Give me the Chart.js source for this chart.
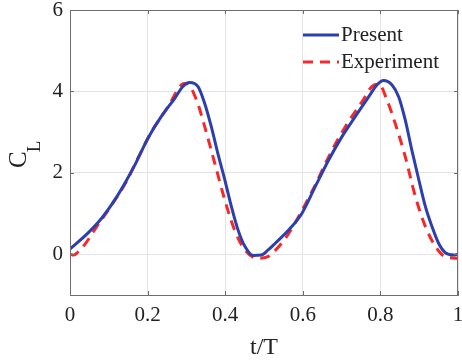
<!DOCTYPE html>
<html>
<head>
<meta charset="utf-8">
<script src="https://cdn.jsdelivr.net/npm/chart.js@4.4.0/dist/chart.umd.min.js"></script>
<style>
  html, body { margin: 0; padding: 0; background: #fff; }
  #wrap { width: 462px; height: 362px; }
</style>
</head>
<body>
<div id="wrap"><canvas id="myChart" width="462" height="362"></canvas></div>
<script>
// t/T values and lift coefficient
const presentT = [0, 0.046, 0.081, 0.115, 0.141, 0.167, 0.201, 0.235, 0.27, 0.291, 0.308, 0.33, 0.347, 0.364, 0.381, 0.399, 0.416, 0.433, 0.451, 0.472, 0.493, 0.51, 0.529, 0.564, 0.598, 0.632, 0.667, 0.701, 0.735, 0.77, 0.791, 0.808, 0.83, 0.847, 0.864, 0.881, 0.899, 0.916, 0.933, 0.95, 0.967, 0.989, 1.0];
const presentCL = [0.13, 0.52, 0.88, 1.33, 1.74, 2.19, 2.85, 3.38, 3.83, 4.12, 4.22, 4.12, 3.71, 3.14, 2.48, 1.83, 1.17, 0.6, 0.19, -0.03, -0.02, 0.1, 0.27, 0.6, 1.01, 1.66, 2.32, 2.89, 3.38, 3.87, 4.16, 4.27, 4.16, 3.87, 3.3, 2.56, 1.83, 1.17, 0.68, 0.27, 0.04, -0.02, 0.0];

const experimentT = [0, 0.01, 0.02, 0.034, 0.072, 0.107, 0.145, 0.175, 0.21, 0.253, 0.287, 0.3, 0.326, 0.347, 0.373, 0.399, 0.424, 0.451, 0.485, 0.51, 0.521, 0.555, 0.589, 0.632, 0.667, 0.71, 0.753, 0.778, 0.796, 0.817, 0.838, 0.864, 0.89, 0.916, 0.942, 0.967, 1.0];
const experimentCL = [0.0, -0.02, 0.05, 0.19, 0.72, 1.21, 1.78, 2.36, 3.01, 3.63, 4.16, 4.2, 3.79, 3.14, 2.24, 1.33, 0.6, 0.1, -0.1, -0.06, 0.02, 0.39, 0.92, 1.7, 2.4, 3.14, 3.75, 4.12, 4.18, 3.79, 3.22, 2.4, 1.42, 0.68, 0.19, -0.06, -0.1];

const seriesLabels = ["Present", "Experiment"];
const yTicks = [0, 2, 4, 6];

const serif = "'Liberation Serif', 'Times New Roman', serif";

function toPoints(xs, ys) {
  return xs.map((x, i) => ({ x: x, y: ys[i] }));
}

// box, inward ticks, y title with subscript, legend inside the axes
const boxPlugin = {
  id: "box",
  afterDraw(chart) {
    const ctx = chart.ctx;
    const a = chart.chartArea;
    const xs = chart.scales.x, ys = chart.scales.y;
    ctx.save();
    ctx.strokeStyle = "#6e6e6e";
    ctx.lineWidth = 1;
    ctx.strokeRect(a.left + 0.5, a.top + 0.5, a.right - a.left - 1, a.bottom - a.top);
    ctx.beginPath();
    xs.ticks.forEach((t) => {
      const px = Math.round(xs.getPixelForValue(t.value)) + 0.5;
      ctx.moveTo(px, a.bottom); ctx.lineTo(px, a.bottom - 4);
      ctx.moveTo(px, a.top); ctx.lineTo(px, a.top + 4);
    });
    ys.ticks.forEach((t) => {
      const py = Math.round(ys.getPixelForValue(t.value)) + 0.5;
      ctx.moveTo(a.left, py); ctx.lineTo(a.left + 4, py);
      ctx.moveTo(a.right, py); ctx.lineTo(a.right - 4, py);
    });
    ctx.stroke();

    // y axis title C_L
    ctx.fillStyle = "#222";
    ctx.translate(26, 168);
    ctx.rotate(-Math.PI / 2);
    ctx.textBaseline = "alphabetic";
    ctx.textAlign = "left";
    ctx.font = "25px " + serif;
    ctx.fillText("C", 0, 0);
    const cw = ctx.measureText("C").width;
    ctx.font = "19px " + serif;
    ctx.fillText("L", cw - 1, 14);
    ctx.restore();

    // legend
    ctx.save();
    ctx.font = "21px " + serif;
    ctx.textBaseline = "middle";
    ctx.fillStyle = "#222";
    chart.data.datasets.forEach((ds, i) => {
      const y = 35 + i * 27;
      ctx.beginPath();
      ctx.strokeStyle = ds.borderColor;
      ctx.lineWidth = 3;
      ctx.setLineDash(ds.borderDash || []);
      ctx.moveTo(303, y);
      ctx.lineTo(339, y);
      ctx.stroke();
      ctx.setLineDash([]);
      ctx.fillText(ds.label, 341, y);
    });
    ctx.restore();
  },
};

const ctx = document.getElementById("myChart").getContext("2d");
new Chart(ctx, {
  type: "line",
  data: {
    datasets: [
      {
        label: seriesLabels[0],
        data: toPoints(presentT, presentCL),
        borderColor: "#2c3fae",
        borderWidth: 3,
        pointRadius: 0,
        cubicInterpolationMode: "monotone",
        fill: false,
      },
      {
        label: seriesLabels[1],
        data: toPoints(experimentT, experimentCL),
        borderColor: "#f5282a",
        borderWidth: 3,
        borderDash: [10, 7],
        pointRadius: 0,
        cubicInterpolationMode: "monotone",
        fill: false,
      },
    ],
  },
  options: {
    responsive: false,
    animation: false,
    layout: { padding: { top: 10, right: 4, left: 0, bottom: 0 } },
    plugins: {
      legend: { display: false },
      tooltip: { enabled: false },
    },
    scales: {
      x: {
        type: "linear",
        min: 0,
        max: 1,
        ticks: {
          stepSize: 0.2,
          color: "#222",
          padding: 8,
          font: { family: serif, size: 21 },
          callback: (v) => Number(v.toFixed(1)).toString(),
        },
        grid: { color: "#e4e4e4", drawTicks: false },
        border: { color: "#6e6e6e" },
        title: {
          display: true,
          text: "t/T",
          color: "#222",
          font: { family: serif, size: 24 },
          padding: { top: 2, bottom: 0 },
        },
        afterFit: (s) => { s.height = 67; s.paddingLeft = 0; s.paddingRight = 0; },
      },
      y: {
        min: -1,
        max: 6,
        afterBuildTicks: (s) => { s.ticks = yTicks.map((v) => ({ value: v })); },
        ticks: {
          color: "#222",
          padding: 7,
          font: { family: serif, size: 21 },
        },
        grid: { color: "#e4e4e4", drawTicks: false },
        border: { color: "#6e6e6e" },
        afterFit: (s) => { s.width = 70; s.paddingTop = 0; s.paddingBottom = 0; },
      },
    },
  },
  plugins: [boxPlugin],
});
</script>
</body>
</html>
